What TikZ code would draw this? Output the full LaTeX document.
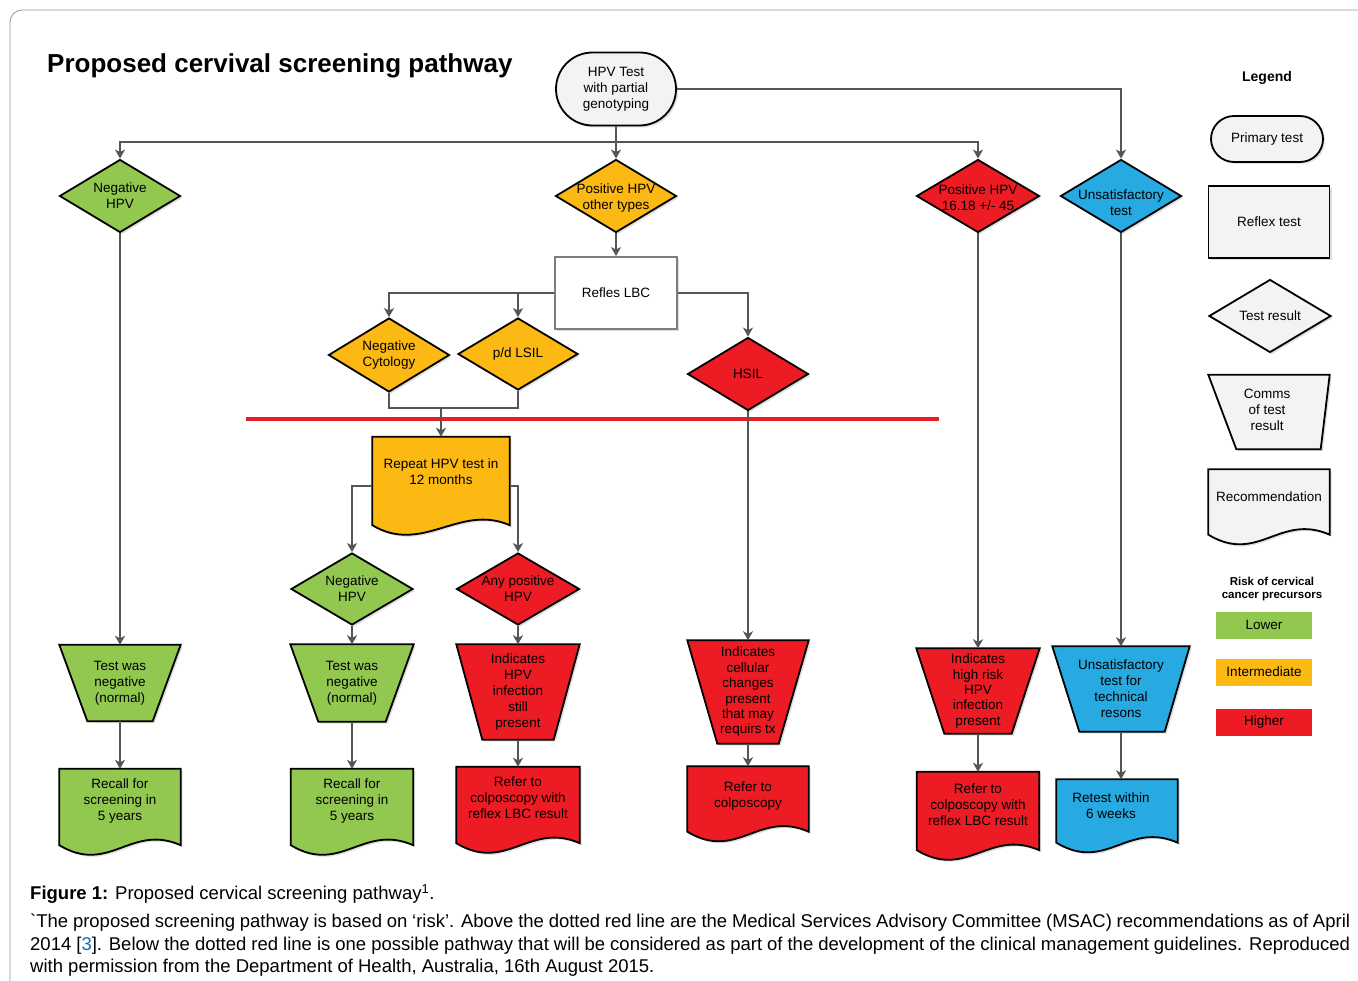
\documentclass[tikz,border=0pt]{standalone}
\usepackage{fontspec}
\setmainfont{Liberation Sans}
\usepackage{xcolor}
\usetikzlibrary{shapes.geometric,shapes.misc,arrows.meta,shadows}

\definecolor{lowgreen}{RGB}{146,200,80}
\definecolor{midyellow}{RGB}{253,185,19}
\definecolor{highred}{RGB}{237,28,36}
\definecolor{unsatblue}{RGB}{39,170,225}
\definecolor{legendgray}{RGB}{242,243,243}
\definecolor{wiregray}{RGB}{85,85,85}
\definecolor{boxgray}{RGB}{125,125,125}
\definecolor{framegray}{RGB}{150,150,150}
\definecolor{dividered}{RGB}{232,30,38}
\definecolor{citeblue}{RGB}{0,112,192}

\newcommand{\boxfont}{\fontsize{13.5}{16}\selectfont}
\newcommand{\tightfont}{\fontsize{13.5}{15.4}\selectfont}
\newcommand{\capfont}{\fontsize{18.5}{22.5}\selectfont}

\begin{document}
\begin{tikzpicture}[x=1pt,y=-1pt,
    outline/.style={draw=black, line width=1.8pt,
      drop shadow={shadow xshift=2pt, shadow yshift=-2pt, opacity=0.25}},
    flow/.style={outline, inner sep=2pt},
    dmd/.style={flow, diamond, inner sep=0pt, minimum width=121, minimum height=73},
    trap/.style n args={3}{inner sep=0pt, minimum width=122,
      append after command={\pgfextra{
        \filldraw[outline, fill=#1] (\tikzlastnode.north west) -- (\tikzlastnode.north east)
          -- ([xshift=-#3]\tikzlastnode.south east) -- ([xshift=#2]\tikzlastnode.south west) -- cycle;}}},
    doc/.style={inner sep=0pt, minimum width=122,
      append after command={\pgfextra{
        \filldraw[outline, fill=#1] (\tikzlastnode.north west) -- (\tikzlastnode.north east)
          -- ([yshift=10pt]\tikzlastnode.south east)
          .. controls ([xshift=-50pt,yshift=32pt]\tikzlastnode.south east)
          and ([xshift=50pt,yshift=-20pt]\tikzlastnode.south west) ..
          ([yshift=10pt]\tikzlastnode.south west) -- cycle;}}},
    txt/.style={font=\boxfont, align=center, inner sep=0pt},
    swatch/.style={inner sep=0pt, minimum width=96, minimum height=27, font=\boxfont},
    wire/.style={draw=wiregray, line width=1.6pt},
    arr/.style={wire, -{Stealth[length=9pt, width=10pt, inset=2.5pt]}}]

\useasboundingbox (0,0) rectangle (1358,981);
\fill[white] (0,0) rectangle (1358,981);
\draw[framegray, line width=0.8pt, rounded corners=12] (10,995) -- (10,10) -- (1375,10);

\node[anchor=west, inner sep=0pt, font=\bfseries\fontsize{26}{30}\selectfont] (title) at (47,66) {Proposed cervival screening pathway};

% primary test and first results
\node[flow, rounded rectangle, fill=legendgray, minimum width=124, minimum height=73, font=\boxfont, align=center] (hpv) at (616,89) {HPV Test\\with partial\\genotyping};
\coordinate (bus) at (616,142);

\node[dmd, fill=lowgreen, label={[txt]center:Negative\\HPV}] (neghpv) at (120,196) {};
\node[dmd, fill=midyellow, label={[txt,yshift=-2pt]center:Positive HPV\\other types}] (posoth) at (616,196) {};
\node[dmd, fill=highred, minimum width=123, label={[txt,yshift=-2pt]center:Positive HPV\\16.18 +/- 45}] (poshi) at (978,196) {};
\node[dmd, fill=unsatblue, label={[txt,yshift=-7pt]center:Unsatisfactory\\test}] (unsat) at (1121,196) {};

% reflex test
\node[flow, rectangle, draw=boxgray, fill=white, minimum width=122, minimum height=72, font=\boxfont] (lbc) at (616,293) {Refles LBC};
\node[dmd, fill=midyellow, minimum height=74, label={[txt]center:Negative\\Cytology}] (negcyt) at (389,355) {};
\node[dmd, fill=midyellow, minimum width=120, minimum height=72, label={[txt]center:p/d LSIL}] (lsil) at (518,354) {};
\node[dmd, fill=highred, label={[txt]center:HSIL}] (hsil) at (748,374) {};
\coordinate (merge) at (441,408);

\draw[dividered, line width=4pt] (246,419) -- (939,419);

% below the line
\node[doc=midyellow, minimum width=137, minimum height=98, label={[txt,yshift=14pt]center:Repeat HPV test in\\12 months}] (repeat) at (441,486) {};
\node[dmd, fill=lowgreen, minimum width=122, minimum height=72, label={[txt]center:Negative\\HPV}] (neghpvb) at (352,589) {};
\node[dmd, fill=highred, minimum width=123, minimum height=72, label={[txt]center:Any positive\\HPV}] (anypos) at (518,589) {};

% comms of test result
\node[trap={lowgreen}{28pt}{28pt}, minimum width=121, minimum height=76, label={[txt]center:Test was\\negative\\(normal)}] (negres) at (120,683) {};
\node[trap={lowgreen}{28pt}{28pt}, minimum width=123, minimum height=77, label={[txt]center:Test was\\negative\\(normal)}] (negresb) at (352,683) {};
\node[trap={highred}{26pt}{26pt}, minimum width=123, minimum height=95, label={[txt]center:Indicates\\HPV\\infection\\still\\present}] (stillres) at (518,692) {};
\node[trap={highred}{30pt}{30pt}, minimum width=121, minimum height=103, label={[txt,font=\tightfont]center:Indicates\\cellular\\changes\\present\\that may\\requirs tx}] (cellres) at (748,692) {};
\node[trap={highred}{28pt}{28pt}, minimum width=123, minimum height=85, label={[txt,font=\tightfont]center:Indicates\\high risk\\HPV\\infection\\present}] (highres) at (978,691) {};
\node[trap={unsatblue}{27pt}{25pt}, minimum width=137, minimum height=85, label={[txt]center:Unsatisfactory\\test for\\technical\\resons}] (unsatres) at (1121,689) {};

% recommendations
\node[doc=lowgreen, minimum width=121, minimum height=86, label={[txt,yshift=11pt]center:Recall for\\screening in\\5 years}] (recall) at (120,812) {};
\node[doc=lowgreen, minimum width=122, minimum height=86, label={[txt,yshift=11pt]center:Recall for\\screening in\\5 years}] (recallb) at (352,812) {};
\node[doc=highred, minimum width=123, minimum height=86, label={[txt,yshift=12pt]center:Refer to\\colposcopy with\\reflex LBC result}] (colpo) at (518,810) {};
\node[doc=highred, minimum width=121, minimum height=75, label={[txt,yshift=8pt]center:Refer to\\colposcopy}] (colpob) at (748,804) {};
\node[doc=highred, minimum width=122, minimum height=88, label={[txt,yshift=11pt]center:Refer to\\colposcopy with\\reflex LBC result}] (colpoc) at (978,816) {};
\node[doc=unsatblue, minimum width=121, minimum height=73, label={[txt,yshift=10pt,xshift=-6pt]center:Retest within\\6 weeks}] (retest) at (1117,816) {};

% connectors
\draw[wire] (hpv.south) -- (bus);
\draw[arr] (bus) -| (neghpv.north);
\draw[arr] (bus) -- (posoth.north);
\draw[arr] (bus) -| (poshi.north);
\draw[arr] (hpv.east) -| (unsat.north);
\draw[arr] (posoth.south) -- (lbc.north);
\draw[arr] (lbc.west) -| (negcyt.north);
\draw[arr] (lbc.west) -| (lsil.north);
\draw[arr] (lbc.east) -| (hsil.north);
\draw[wire] (negcyt.south) |- (merge) -| (lsil.south);
\draw[arr] (merge) -- (repeat.north);
\draw[arr] (repeat.west) -| (neghpvb.north);
\draw[arr] (repeat.east) -| (anypos.north);
\draw[arr] (neghpv.south) -- (negres.north);
\draw[arr] (neghpvb.south) -- (negresb.north);
\draw[arr] (anypos.south) -- (stillres.north);
\draw[arr] (hsil.south) -- (cellres.north);
\draw[arr] (poshi.south) -- (highres.north);
\draw[arr] (unsat.south) -- (unsatres.north);
\draw[arr] (negres.south) -- (recall.north);
\draw[arr] (negresb.south) -- (recallb.north);
\draw[arr] (stillres.south) -- (colpo.north);
\draw[arr] (cellres.south) -- (colpob.north);
\draw[arr] (highres.south) -- (colpoc.north);
\draw[arr] (unsatres.south) -- (unsatres.south |- retest.north);

% legend
\node[font=\bfseries\fontsize{14}{16}\selectfont] (legend) at (1267,78) {Legend};
\node[flow, rounded rectangle, fill=legendgray, minimum width=116, minimum height=46, font=\boxfont] (lprim) at (1267,139) {Primary test};
\node[flow, rectangle, fill=legendgray, minimum width=121, minimum height=72, font=\boxfont] (lrefl) at (1269,222) {Reflex test};
\node[dmd, fill=legendgray, minimum width=122, label={[txt]center:Test result}] (lres) at (1270,316) {};
\node[trap={legendgray}{28pt}{9pt}, minimum width=121, minimum height=74, label={[txt,yshift=2pt,xshift=-2pt]center:Comms\\of test\\result}] (lcomm) at (1269,412) {};
\node[doc=legendgray, minimum width=121, minimum height=75, label={[txt,yshift=10pt]center:Recommendation}] (lrec) at (1269,507) {};
\node[font=\bfseries\fontsize{11.5}{13}\selectfont, align=center] (risk) at (1272,589) {Risk of cervical\\cancer precursors};
\node[swatch, fill=lowgreen] (lower) at (1264,625) {Lower};
\node[swatch, fill=midyellow] (inter) at (1264,672) {Intermediate};
\node[swatch, fill=highred] (higher) at (1264,722) {Higher};

% caption
\node[anchor=base west, font=\capfont, inner sep=0pt] (figcap) at (30,899.5) {\textbf{Figure 1:} Proposed cervical screening pathway\textsuperscript{1}.};
\node[anchor=base west, font=\capfont, inner sep=0pt] (capa) at (30,927.5) {\makebox[1320pt][s]{\textasciigrave The proposed screening pathway is based on ‘risk’. Above the dotted red line are the Medical Services Advisory Committee (MSAC) recommendations as of April}};
\node[anchor=base west, font=\capfont, inner sep=0pt] (capb) at (30,950) {\makebox[1320pt][s]{2014 [\textcolor{citeblue}{3}]. Below the dotted red line is one possible pathway that will be considered as part of the development of the clinical management guidelines. Reproduced}};
\node[anchor=base west, font=\capfont, inner sep=0pt] (capc) at (30,972.5) {with permission from the Department of Health, Australia, 16th August 2015.};
\end{tikzpicture}
\end{document}
